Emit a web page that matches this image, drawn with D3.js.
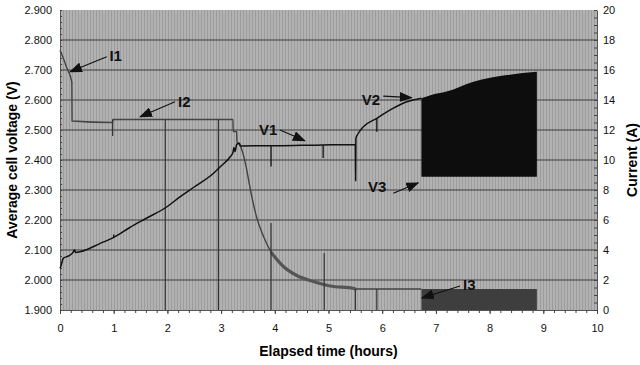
<!DOCTYPE html>
<html>
<head>
<meta charset="utf-8">
<script src="https://cdn.jsdelivr.net/npm/d3@7"></script>
<style>
  body { margin: 0; background: #fff; }
  svg { display: block; font-family: "Liberation Sans", Arial, sans-serif; }
</style>
</head>
<body>
<div id="chart"></div>
<script>
// time in hours, voltage in V (left axis), current in A (right axis)
const voltageCurve = [
  [0, 2.039], [0.013, 2.044], [0.06, 2.072], [0.155, 2.08], [0.25, 2.094], [0.27, 2.101], [0.29, 2.092],
  [0.37, 2.094], [0.75, 2.122], [1.0, 2.142], [1.3, 2.175], [1.6, 2.205], [2.0, 2.245], [2.24, 2.278],
  [2.5, 2.31], [2.86, 2.356], [3.0, 2.38], [3.17, 2.411], [3.22, 2.425], [3.24, 2.442], [3.26, 2.428],
  [3.29, 2.452], [3.34, 2.456], [3.36, 2.447], [4.5, 2.449], [5.5, 2.452], [5.505, 2.331], [5.51, 2.472],
  [5.56, 2.49], [5.65, 2.511], [5.9, 2.539], [6.15, 2.567], [6.46, 2.594], [6.73, 2.606]
];
// pulsed part: upper envelope, lower level
const voltagePulseTop = [[6.73, 2.606], [6.9, 2.616], [7.2, 2.628], [7.7, 2.661], [8.32, 2.683], [8.88, 2.694]];
const voltagePulseLow = 2.344;
// short relaxation ticks [t, from, to]
const voltageDips = [[1.0, 2.142, 2.152], [3.93, 2.447, 2.378], [4.9, 2.449, 2.407], [5.9, 2.539, 2.494]];

const currentCurve = [
  [0, 17.3], [0.06, 16.8], [0.12, 16.2], [0.22, 15.2], [0.225, 12.6], [0.98, 12.5], [0.985, 12.7],
  [3.22, 12.7], [3.225, 11.9], [3.29, 11.9], [3.295, 11.2], [3.33, 11.1], [3.48, 9.3], [3.51, 8.7],
  [3.66, 6.2], [3.79, 4.9], [3.94, 3.8], [4.16, 2.9], [4.41, 2.3], [4.72, 1.9], [5.03, 1.6],
  [5.46, 1.45], [5.5, 1.4], [6.73, 1.4]
];
const currentPulseSpan = [6.73, 8.88];
const currentPulseTop = 1.4;
const currentDips = [[0.98, 12.7, 11.6], [1.96, 12.7, 0], [2.95, 12.7, 0], [3.93, 5.8, 0], [4.92, 3.8, 0], [5.5, 1.4, 0], [5.9, 1.4, 0]];

const xTicks = d3.range(0, 11);
const voltTicks = d3.range(0, 11).map(i => 1.9 + i * 0.1);
const currTicks = d3.range(0, 21, 2);

// label text position [t, V], arrow from [t, V] to [t, V]
const notes = [
  {text: "I1", at: [0.92, 2.729], from: [0.87, 2.744], to: [0.186, 2.694]},
  {text: "I2", at: [2.197, 2.577], from: [2.142, 2.594], to: [1.49, 2.544]},
  {text: "V1", at: [3.706, 2.483], from: [4.097, 2.5], to: [4.562, 2.464]},
  {text: "V2", at: [5.618, 2.583], from: [6.02, 2.613], to: [6.55, 2.608]},
  {text: "V3", at: [5.735, 2.294], from: [6.207, 2.289], to: [6.672, 2.324]},
  {text: "I3", at: [7.505, 1.967], from: [7.45, 1.98], to: [6.737, 1.94]}
];

const width = 640, height = 365;
const mLeft = 60, mRight = 597, mTop = 10, mBottom = 310;

const x = d3.scaleLinear([0, 10], [mLeft, mRight]);
const yV = d3.scaleLinear([1.9, 2.9], [mBottom, mTop]);
const yI = d3.scaleLinear([0, 20], [mBottom, mTop]);

const svg = d3.select("#chart").append("svg")
    .attr("width", width)
    .attr("height", height);

const defs = svg.append("defs");
defs.append("marker")
    .attr("id", "arrow")
    .attr("viewBox", "0 0 13 10")
    .attr("refX", 12).attr("refY", 5)
    .attr("markerWidth", 13).attr("markerHeight", 10)
    .attr("markerUnits", "userSpaceOnUse")
    .attr("orient", "auto")
  .append("path")
    .attr("d", "M0,0L13,5L0,10z")
    .attr("fill", "#111");

// scanned-paper look of the plot area: fine vertical hatch
const hatch = defs.append("pattern")
    .attr("id", "hatch")
    .attr("width", 3).attr("height", 4)
    .attr("patternUnits", "userSpaceOnUse");
hatch.append("rect").attr("width", 3).attr("height", 4).attr("fill", "#b2b2b2");
hatch.append("rect").attr("width", 1).attr("height", 4).attr("fill", "#9c9c9c");

// plot area
svg.append("rect")
    .attr("x", mLeft).attr("y", mTop)
    .attr("width", mRight - mLeft).attr("height", mBottom - mTop)
    .attr("fill", "url(#hatch)");

// horizontal gridlines
svg.append("g")
  .selectAll("line")
  .data(voltTicks.slice(1, -1))
  .join("line")
    .attr("x1", mLeft).attr("x2", mRight)
    .attr("y1", d => yV(d)).attr("y2", d => yV(d))
    .attr("stroke", "#3d3d3d")
    .attr("stroke-width", 1);

// axes
const gL = svg.append("g")
    .attr("transform", `translate(${mLeft},0)`)
    .call(d3.axisLeft(yV).tickValues(voltTicks).tickFormat(d3.format(".3f")).tickSize(0).tickPadding(8));
const gR = svg.append("g")
    .attr("transform", `translate(${mRight},0)`)
    .call(d3.axisRight(yI).tickValues(currTicks).tickSize(0).tickPadding(6));
const gB = svg.append("g")
    .attr("transform", `translate(0,${mBottom})`)
    .call(d3.axisBottom(x).tickValues(xTicks).tickFormat(d3.format("d")).tickSize(4).tickPadding(10));

// minor ticks
svg.append("g")
    .attr("transform", `translate(0,${mBottom})`)
    .call(d3.axisBottom(x).ticks(50).tickFormat("").tickSize(3))
    .call(g => g.select(".domain").remove());
svg.append("g")
    .attr("transform", `translate(${mRight},0)`)
    .call(d3.axisLeft(yI).ticks(40).tickFormat("").tickSize(3))
    .call(g => g.select(".domain").remove());
svg.append("g")
    .attr("transform", `translate(${mLeft},0)`)
    .call(d3.axisRight(yV).ticks(50).tickFormat("").tickSize(2))
    .call(g => g.select(".domain").remove());

svg.selectAll(".tick line").attr("stroke", "#444");
svg.selectAll(".domain").attr("stroke", "#555");
for (const g of [gL, gR, gB]) {
  g.selectAll("text").attr("font-size", 11).attr("fill", "#111")
      .attr("font-family", "Liberation Sans, Arial, sans-serif");
}

// axis titles
svg.append("text")
    .attr("transform", `translate(17,${(mTop + mBottom) / 2}) rotate(-90)`)
    .attr("text-anchor", "middle")
    .attr("font-size", 14).attr("font-weight", "bold")
    .text("Average cell voltage (V)");
svg.append("text")
    .attr("transform", `translate(637,${(mTop + mBottom) / 2}) rotate(-90)`)
    .attr("text-anchor", "middle")
    .attr("font-size", 14).attr("font-weight", "bold")
    .text("Current (A)");
svg.append("text")
    .attr("x", (mLeft + mRight) / 2).attr("y", 356)
    .attr("text-anchor", "middle")
    .attr("font-size", 14).attr("font-weight", "bold")
    .text("Elapsed time (hours)");

const lineI = d3.line().x(d => x(d[0])).y(d => yI(d[1])).curve(d3.curveMonotoneX);
const lineV = d3.line().x(d => x(d[0])).y(d => yV(d[1])).curve(d3.curveMonotoneX);

// current
svg.append("rect")
    .attr("x", x(currentPulseSpan[0]))
    .attr("y", yI(currentPulseTop))
    .attr("width", x(currentPulseSpan[1]) - x(currentPulseSpan[0]))
    .attr("height", yI(0) - yI(currentPulseTop))
    .attr("fill", "#3e3e3e");

svg.append("path")
    .datum(currentCurve)
    .attr("d", lineI)
    .attr("fill", "none")
    .attr("stroke", "#444")
    .attr("stroke-width", 1.4);
svg.append("path")
    .datum(currentCurve.filter(d => d[0] >= 3.94 && d[0] <= 5.5))
    .attr("d", lineI)
    .attr("fill", "none")
    .attr("stroke", "#555")
    .attr("stroke-width", 3.2)
    .attr("stroke-linecap", "round");
svg.append("g")
  .selectAll("line")
  .data(currentDips)
  .join("line")
    .attr("x1", d => x(d[0])).attr("x2", d => x(d[0]))
    .attr("y1", d => yI(d[1])).attr("y2", d => yI(d[2]))
    .attr("stroke", "#333")
    .attr("stroke-width", 1.2);

// voltage
svg.append("path")
    .datum(voltagePulseTop)
    .attr("d", d3.area().x(d => x(d[0])).y0(yV(voltagePulseLow)).y1(d => yV(d[1])).curve(d3.curveMonotoneX))
    .attr("fill", "#0d0d0d");
svg.append("path")
    .datum(voltageCurve)
    .attr("d", lineV)
    .attr("fill", "none")
    .attr("stroke", "#111")
    .attr("stroke-width", 1.5);
svg.append("g")
  .selectAll("line")
  .data(voltageDips)
  .join("line")
    .attr("x1", d => x(d[0])).attr("x2", d => x(d[0]))
    .attr("y1", d => yV(d[1])).attr("y2", d => yV(d[2]))
    .attr("stroke", "#111")
    .attr("stroke-width", 1.3);

// annotations
const note = svg.append("g").selectAll("g").data(notes).join("g");
note.append("line")
    .attr("x1", d => x(d.from[0])).attr("y1", d => yV(d.from[1]))
    .attr("x2", d => x(d.to[0])).attr("y2", d => yV(d.to[1]))
    .attr("stroke", "#111")
    .attr("stroke-width", 1.2)
    .attr("marker-end", "url(#arrow)");
note.append("text")
    .attr("x", d => x(d.at[0])).attr("y", d => yV(d.at[1]))
    .attr("font-size", 15).attr("font-weight", "bold")
    .attr("fill", "#111")
    .text(d => d.text);
</script>
</body>
</html>
